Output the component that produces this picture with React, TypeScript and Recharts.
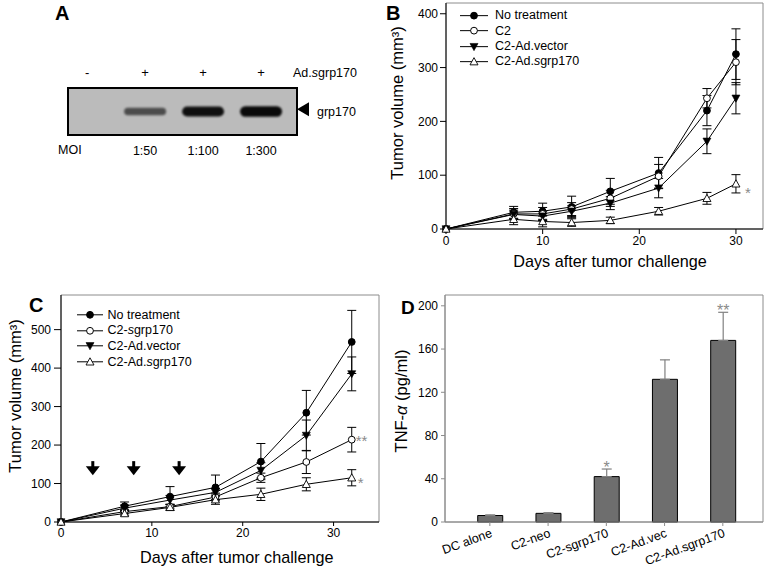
import React from 'react';
import {
  ScatterChart,
  Scatter,
  LineChart,
  BarChart,
  Bar,
  Line,
  XAxis,
  YAxis,
  ErrorBar,
  ReferenceArea,
  ReferenceDot,
  Legend,
  LabelList,
} from 'recharts';

const FONT = '"Liberation Sans", Arial, Helvetica, sans-serif';

// ---------- Panel A: western blot ----------
const blotLanes = [0, 1, 2, 3];
const blotTreatment = ['-', '+', '+', '+'];
const blotMoi = ['', '1:50', '1:100', '1:300'];
const blotSignal = [0, 0.45, 0.95, 1.0];

// ---------- Panel B ----------
const daysB = [0, 7, 10, 13, 17, 22, 27, 30];
const bNoTreatment = [0, 31, 33, 41, 70, 104, 220, 325];
const bNoTreatmentErr = [0, 11, 15, 20, 24, 29, 28, 47];
const bC2 = [0, 28, 28, 37, 57, 98, 243, 310];
const bC2Err = [0, 10, 12, 12, 15, 22, 18, 42];
const bVector = [0, 27, 24, 33, 48, 76, 163, 243];
const bVectorErr = [0, 8, 8, 10, 12, 18, 23, 29];
const bAdSgrp = [0, 18, 14, 12, 16, 33, 57, 84];
const bAdSgrpErr = [0, 10, 10, 7, 6, 7, 11, 17];
const bAdSgrpSig = [null, null, null, null, null, null, null, '*'];
const bTicksX = [0, 10, 20, 30];
const bTicksY = [0, 100, 200, 300, 400];

// ---------- Panel C ----------
const daysC = [0, 7, 12, 17, 22, 27, 32];
const cNoTreatment = [0, 41, 66, 90, 157, 284, 468];
const cNoTreatmentErr = [0, 11, 26, 32, 47, 58, 82];
const cSgrp = [0, 27, 40, 65, 115, 156, 214];
const cSgrpErr = [0, 6, 6, 10, 12, 30, 32];
const cSgrpSig = [null, null, null, null, null, null, '**'];
const cVector = [0, 36, 57, 77, 134, 225, 385];
const cVectorErr = [0, 8, 12, 10, 20, 40, 44];
const cAdSgrp = [0, 22, 38, 58, 72, 98, 115];
const cAdSgrpErr = [0, 6, 8, 12, 16, 17, 21];
const cAdSgrpSig = [null, null, null, null, null, null, '*'];
const cInjectionDays = [3.5, 8, 13];
const cInjectionLevel = 140;
const cTicksX = [0, 10, 20, 30];
const cTicksY = [0, 100, 200, 300, 400, 500];

// ---------- Panel D ----------
const dCategories = ['DC alone', 'C2-neo', 'C2-sgrp170', 'C2-Ad.vec', 'C2-Ad.sgrp170'];
const dValues = [6, 8, 42, 132, 168];
const dErr = [0.6, 0.6, 7, 18, 26];
const dSig = [null, null, '*', null, '**'];
const dTicksY = [0, 40, 80, 120, 160, 200];

// ---------- tables ----------
const laneData = blotLanes.map((lane, i) => ({ lane, y: 0.5, signal: blotSignal[i] }));

const tableB = daysB.map((day, i) => ({
  day,
  nt: bNoTreatment[i],
  ntErr: bNoTreatmentErr[i],
  c2: bC2[i],
  c2Err: bC2Err[i],
  vec: bVector[i],
  vecErr: bVectorErr[i],
  ad: bAdSgrp[i],
  adErr: bAdSgrpErr[i],
  adSig: bAdSgrpSig[i],
}));

const tableC = daysC.map((day, i) => ({
  day,
  nt: cNoTreatment[i],
  ntErr: cNoTreatmentErr[i],
  sg: cSgrp[i],
  sgErr: cSgrpErr[i],
  sgSig: cSgrpSig[i],
  vec: cVector[i],
  vecErr: cVectorErr[i],
  ad: cAdSgrp[i],
  adErr: cAdSgrpErr[i],
  adSig: cAdSgrpSig[i],
}));

const tableD = dCategories.map((cat, i) => ({
  idx: i,
  cat,
  val: dValues[i],
  err: [0, dErr[i]],
  sig: dSig[i],
}));

type SeriesDef = {
  key: string;
  errKey: string;
  name: string;
  marker: string;
  sigKey?: string;
  sigX?: number;
  sigY?: number;
};

const seriesB: SeriesDef[] = [
  { key: 'nt', errKey: 'ntErr', name: 'No treatment', marker: 'filledCircle' },
  { key: 'c2', errKey: 'c2Err', name: 'C2', marker: 'openCircle' },
  { key: 'vec', errKey: 'vecErr', name: 'C2-Ad.vector', marker: 'filledTriDown' },
  { key: 'ad', errKey: 'adErr', name: 'C2-Ad.sgrp170', marker: 'openTriUp', sigKey: 'adSig', sigX: 9, sigY: 14 },
];

const seriesC: SeriesDef[] = [
  { key: 'nt', errKey: 'ntErr', name: 'No treatment', marker: 'filledCircle' },
  { key: 'sg', errKey: 'sgErr', name: 'C2-sgrp170', marker: 'openCircle', sigKey: 'sgSig', sigX: 4, sigY: 6 },
  { key: 'vec', errKey: 'vecErr', name: 'C2-Ad.vector', marker: 'filledTriDown' },
  { key: 'ad', errKey: 'adErr', name: 'C2-Ad.sgrp170', marker: 'openTriUp', sigKey: 'adSig', sigX: 6, sigY: 10 },
];

// ---------- helpers ----------
function renderNameSvg(name: string) {
  const i = name.indexOf('sgrp');
  if (i < 0) return name;
  return [
    name.slice(0, i),
    <tspan key="s" fontStyle="italic">s</tspan>,
    name.slice(i + 1),
  ];
}

function renderNameHtml(name: string) {
  const i = name.indexOf('sgrp');
  if (i < 0) return name;
  return (
    <>
      {name.slice(0, i)}
      <i>s</i>
      {name.slice(i + 1)}
    </>
  );
}

const Marker = ({ type, cx, cy }: any) => {
  if (cx == null || cy == null || isNaN(cx) || isNaN(cy)) return null;
  switch (type) {
    case 'filledCircle':
      return <circle cx={cx} cy={cy} r={3.4} fill="#000" stroke="#000" strokeWidth={1} />;
    case 'openCircle':
      return <circle cx={cx} cy={cy} r={3.4} fill="#fff" stroke="#000" strokeWidth={1} />;
    case 'filledTriDown':
      return (
        <polygon
          points={`${cx - 4},${cy - 3.2} ${cx + 4},${cy - 3.2} ${cx},${cy + 4}`}
          fill="#000"
          stroke="#000"
          strokeWidth={0.6}
        />
      );
    case 'openTriUp':
      return (
        <polygon
          points={`${cx - 4},${cy + 3.2} ${cx + 4},${cy + 3.2} ${cx},${cy - 4}`}
          fill="#fff"
          stroke="#000"
          strokeWidth={0.9}
        />
      );
    default:
      return null;
  }
};

const makeDot = (type: string, prefix: string) => (p: any) => (
  <Marker key={`${prefix}-${type}-${p.index}`} type={type} cx={p.cx} cy={p.cy} />
);

// generic text placed relative to a label viewBox
const Caption = (props: any) => {
  const vb = props.viewBox;
  if (!vb) return null;
  const fx = props.fx ?? 0;
  const fy = props.fy ?? 0;
  const x = (vb.x ?? 0) + fx * (vb.width ?? 0) + (props.offX ?? 0);
  const y = (vb.y ?? 0) + fy * (vb.height ?? 0) + (props.offY ?? 0);
  const content = props.node ?? renderNameSvg(props.txt ?? '');
  if (props.rotate) {
    return (
      <text
        x={x}
        y={y}
        transform={`rotate(-90 ${x} ${y})`}
        textAnchor="middle"
        dominantBaseline="central"
        fontFamily={FONT}
        fontSize={props.size ?? 16.5}
        fill="#000"
      >
        {content}
      </text>
    );
  }
  return (
    <text
      x={x}
      y={y}
      textAnchor={props.anchor ?? 'start'}
      fontFamily={FONT}
      fontSize={props.size ?? 12.5}
      fill="#000"
    >
      {content}
    </text>
  );
};

const SigText = (props: any) => {
  const { value } = props;
  if (!value) return null;
  const vb = props.viewBox || {};
  const x = props.x ?? vb.x;
  const y = props.y ?? vb.y;
  if (x == null || y == null) return null;
  return (
    <text
      x={x + (props.offX ?? 0)}
      y={y + (props.offY ?? 0)}
      fontFamily={FONT}
      fontSize={15}
      fill="#8a8a8a"
    >
      {value}
    </text>
  );
};

const BarSig = (props: any) => {
  const { value, index } = props;
  if (!value) return null;
  const vb = props.viewBox && props.viewBox.width != null ? props.viewBox : props;
  const { x, y, width, height } = vb;
  if (x == null || y == null) return null;
  const perUnit = height / dValues[index];
  const topY = y - dErr[index] * perUnit;
  return (
    <text
      x={x + width / 2}
      y={topY + 4}
      textAnchor="middle"
      fontFamily={FONT}
      fontSize={16}
      fill="#8a8a8a"
    >
      {value}
    </text>
  );
};

const LegendBox = (props: any) => {
  const { payload = [], series, rowH, lineW, gap } = props;
  const present =
    payload && payload.length
      ? series.filter((s: SeriesDef) => payload.some((p: any) => p.dataKey === s.key))
      : series;
  return (
    <div style={{ fontFamily: FONT, fontSize: 12.5, color: '#000' }}>
      {present.map((s: SeriesDef) => (
        <div
          key={s.key}
          style={{ display: 'flex', alignItems: 'center', height: rowH, whiteSpace: 'nowrap' }}
        >
          <svg width={lineW} height={rowH} style={{ display: 'block', overflow: 'visible' }}>
            <line x1={0} x2={lineW} y1={rowH / 2} y2={rowH / 2} stroke="#000" strokeWidth={1} />
            <Marker type={s.marker} cx={lineW / 2} cy={rowH / 2} />
          </svg>
          <span style={{ marginLeft: gap, lineHeight: 1 }}>{renderNameHtml(s.name)}</span>
        </div>
      ))}
    </div>
  );
};

const BandShape = (p: any) => {
  const s = p.payload?.signal ?? 0;
  if (!s || p.cx == null) return <g />;
  const ry = 2.6 + 2.6 * s;
  const rx = 21;
  return (
    <rect
      x={p.cx - rx}
      y={p.cy - ry}
      width={rx * 2}
      height={ry * 2}
      rx={ry}
      ry={ry}
      fill="#000"
      fillOpacity={0.3 + 0.65 * s}
      filter="url(#bandBlur)"
    />
  );
};

const PointerShape = (p: any) => (
  <polygon
    points={`${p.cx},${p.cy} ${p.cx + 12},${p.cy - 7} ${p.cx + 12},${p.cy + 7}`}
    fill="#000"
  />
);

const ArrowShape = (p: any) => (
  <g>
    <rect x={p.cx - 1.5} y={p.cy - 7} width={3} height={6} fill="#000" />
    <polygon points={`${p.cx - 7},${p.cy - 2} ${p.cx + 7},${p.cy - 2} ${p.cx},${p.cy + 7}`} fill="#000" />
  </g>
);

const DTick = (props: any) => {
  const { x, y, payload } = props;
  const label = dCategories[payload?.value];
  if (label == null) return null;
  return (
    <g transform={`translate(${x},${y})`}>
      <text
        x={0}
        y={0}
        dy={9}
        textAnchor="end"
        transform="rotate(-20)"
        fontSize={12.5}
        fontFamily={FONT}
        fill="#000"
      >
        {label}
      </text>
    </g>
  );
};

const tickStyle = { fontSize: 12, fill: '#000', fontFamily: FONT };
const letterStyle: React.CSSProperties = {
  position: 'absolute',
  fontFamily: FONT,
  fontWeight: 'bold',
  fontSize: 20,
  lineHeight: 1,
  color: '#000',
};

export default function App() {
  return (
    <div
      style={{
        position: 'absolute',
        left: 0,
        top: 0,
        width: 767,
        height: 570,
        background: '#fff',
        overflow: 'hidden',
      }}
    >
      {/* Panel A */}
      <div style={{ position: 'absolute', left: 0, top: 0 }}>
        <ScatterChart width={380} height={180} margin={{ top: 68, right: 83, bottom: 20, left: 68 }}>
          <defs>
            <filter id="bandBlur" x="-20%" y="-60%" width="140%" height="220%">
              <feGaussianBlur stdDeviation="1.1" />
            </filter>
          </defs>
          <XAxis
            xAxisId="top"
            orientation="top"
            type="number"
            dataKey="lane"
            domain={[-0.33, 3.62]}
            ticks={blotLanes}
            tickFormatter={(v: number) => blotTreatment[v]}
            axisLine={false}
            tickLine={false}
            tickMargin={5}
            height={20}
            tick={{ fontSize: 13, fill: '#000', fontFamily: FONT }}
            label={<Caption txt="Ad.sgrp170" fx={1} offX={-4} offY={8.7} size={12.5} />}
          />
          <XAxis
            xAxisId="bottom"
            orientation="bottom"
            type="number"
            dataKey="lane"
            domain={[-0.33, 3.62]}
            ticks={[1, 2, 3]}
            tickFormatter={(v: number) => blotMoi[v]}
            axisLine={false}
            tickLine={false}
            tickMargin={5}
            height={25}
            tick={{ fontSize: 12.5, fill: '#000', fontFamily: FONT }}
            label={<Caption txt="MOI" offX={-10} offY={19} size={12.5} />}
          />
          <YAxis type="number" dataKey="y" domain={[0, 1]} hide />
          <ReferenceArea
            xAxisId="bottom"
            x1={-0.33}
            x2={3.62}
            y1={0}
            y2={1}
            fill="#bbbbbb"
            fillOpacity={1}
            stroke="#000"
            strokeWidth={2}
          />
          <Scatter
            xAxisId="top"
            data={laneData}
            shape={() => <g />}
            isAnimationActive={false}
          />
          <Scatter
            xAxisId="bottom"
            data={laneData}
            shape={BandShape}
            isAnimationActive={false}
          />
          <ReferenceDot
            xAxisId="bottom"
            x={3.62}
            y={0.55}
            r={0}
            ifOverflow="visible"
            shape={PointerShape}
            label={<Caption txt="grp170" offX={20} offY={6.9} size={12.5} />}
          />
        </ScatterChart>
      </div>
      <div style={{ ...letterStyle, left: 55, top: 2.5 }}>A</div>

      {/* Panel B */}
      <div style={{ position: 'absolute', left: 380, top: 0 }}>
        <LineChart width={387} height={280} data={tableB} margin={{ top: 3, right: 4, bottom: 13, left: 12 }}>
          <ReferenceArea
            x1={0}
            x2={32.8}
            y1={0}
            y2={420}
            fill="none"
            stroke="#8c8c8c"
            strokeWidth={1}
            ifOverflow="visible"
          />
          <XAxis
            type="number"
            dataKey="day"
            domain={[0, 32.8]}
            ticks={bTicksX}
            height={38}
            tickSize={5}
            tickMargin={2}
            axisLine={{ stroke: '#000' }}
            tickLine={{ stroke: '#000' }}
            tick={tickStyle}
            label={<Caption txt="Days after tumor challenge" fx={0.5} offX={5.5} offY={38} anchor="middle" size={16.2} />}
          />
          <YAxis
            type="number"
            domain={[0, 420]}
            ticks={bTicksY}
            width={54}
            tickSize={6}
            tickMargin={2}
            axisLine={{ stroke: '#000' }}
            tickLine={{ stroke: '#000' }}
            tick={tickStyle}
            label={<Caption txt="Tumor volume (mm³)" rotate fy={0.5} offX={5} offY={-13} size={16.5} />}
          />
          {seriesB.map((s) => (
            <Line
              key={s.key}
              dataKey={s.key}
              name={s.name}
              type="linear"
              stroke="#000"
              strokeWidth={1}
              dot={makeDot(s.marker, 'b' + s.key)}
              activeDot={false}
              isAnimationActive={false}
            >
              <ErrorBar dataKey={s.errKey} width={4.5} stroke="#000" strokeWidth={1} direction="y" />
              {s.sigKey ? (
                <LabelList dataKey={s.sigKey} content={<SigText offX={s.sigX} offY={s.sigY} />} />
              ) : null}
            </Line>
          ))}
          <Legend
            layout="vertical"
            align="center"
            verticalAlign="middle"
            wrapperStyle={{ left: 80, top: 8, width: 'auto', height: 'auto' }}
            content={<LegendBox series={seriesB} rowH={15.3} lineW={28} gap={7} />}
          />
        </LineChart>
      </div>
      <div style={{ ...letterStyle, left: 386, top: 2.5 }}>B</div>

      {/* Panel C */}
      <div style={{ position: 'absolute', left: 0, top: 280 }}>
        <LineChart width={380} height={290} data={tableC} margin={{ top: 15, right: 1, bottom: 3, left: 12 }}>
          <ReferenceArea
            x1={0}
            x2={35}
            y1={0}
            y2={590}
            fill="none"
            stroke="#8c8c8c"
            strokeWidth={1}
            ifOverflow="visible"
          />
          <XAxis
            type="number"
            dataKey="day"
            domain={[0, 35]}
            ticks={cTicksX}
            height={45}
            tickSize={4}
            tickMargin={2}
            axisLine={{ stroke: '#000' }}
            tickLine={{ stroke: '#000' }}
            tick={tickStyle}
            label={<Caption txt="Days after tumor challenge" fx={0.5} offX={16.7} offY={41} anchor="middle" size={16.2} />}
          />
          <YAxis
            type="number"
            domain={[0, 590]}
            ticks={cTicksY}
            width={49}
            tickSize={7}
            tickMargin={3}
            axisLine={{ stroke: '#000' }}
            tickLine={{ stroke: '#000' }}
            tick={tickStyle}
            label={<Caption txt="Tumor volume (mm³)" rotate fy={0.5} offX={3} offY={-12.5} size={16.5} />}
          />
          {cInjectionDays.map((d) => (
            <ReferenceDot
              key={`inj-${d}`}
              x={d}
              y={cInjectionLevel}
              r={0}
              ifOverflow="visible"
              shape={ArrowShape}
            />
          ))}
          {seriesC.map((s) => (
            <Line
              key={s.key}
              dataKey={s.key}
              name={s.name}
              type="linear"
              stroke="#000"
              strokeWidth={1}
              dot={makeDot(s.marker, 'c' + s.key)}
              activeDot={false}
              isAnimationActive={false}
            >
              <ErrorBar dataKey={s.errKey} width={4.5} stroke="#000" strokeWidth={1} direction="y" />
              {s.sigKey ? (
                <LabelList dataKey={s.sigKey} content={<SigText offX={s.sigX} offY={s.sigY} />} />
              ) : null}
            </Line>
          ))}
          <Legend
            layout="vertical"
            align="center"
            verticalAlign="middle"
            wrapperStyle={{ left: 77, top: 27.2, width: 'auto', height: 'auto' }}
            content={<LegendBox series={seriesC} rowH={15.6} lineW={26} gap={4.5} />}
          />
        </LineChart>
      </div>
      <div style={{ ...letterStyle, left: 29, top: 294.5 }}>C</div>

      {/* Panel D */}
      <div style={{ position: 'absolute', left: 380, top: 280 }}>
        <BarChart width={387} height={290} data={tableD} margin={{ top: 15, right: 4, bottom: 0, left: 12 }} barSize={25}>
          <ReferenceArea
            x1={-0.77}
            x2={4.69}
            y1={0}
            y2={210}
            fill="none"
            stroke="#8c8c8c"
            strokeWidth={1}
            ifOverflow="visible"
          />
          <XAxis
            type="number"
            dataKey="idx"
            domain={[-0.77, 4.69]}
            ticks={[0, 1, 2, 3, 4]}
            interval={0}
            height={48}
            tickSize={4}
            tickMargin={2}
            axisLine={{ stroke: '#8c8c8c' }}
            tickLine={{ stroke: '#8c8c8c' }}
            tick={<DTick />}
          />
          <YAxis
            type="number"
            domain={[0, 210]}
            ticks={dTicksY}
            width={53}
            tickSize={4}
            tickMargin={3}
            axisLine={{ stroke: '#8c8c8c' }}
            tickLine={{ stroke: '#8c8c8c' }}
            tick={tickStyle}
            label={
              <Caption
                node={
                  <>
                    TNF-<tspan fontStyle="italic">α</tspan> (pg/ml)
                  </>
                }
                rotate
                fy={0.5}
                offX={8.7}
                offY={-7.5}
                size={16.5}
              />
            }
          />
          <Bar dataKey="val" fill="#6e6e6e" stroke="#000" strokeWidth={1} isAnimationActive={false}>
            <ErrorBar dataKey="err" width={5} stroke="#808080" strokeWidth={1.2} direction="y" />
            <LabelList dataKey="sig" content={<BarSig />} />
          </Bar>
        </BarChart>
      </div>
      <div style={{ ...letterStyle, left: 401, top: 297.5, fontSize: 19 }}>D</div>
    </div>
  );
}
